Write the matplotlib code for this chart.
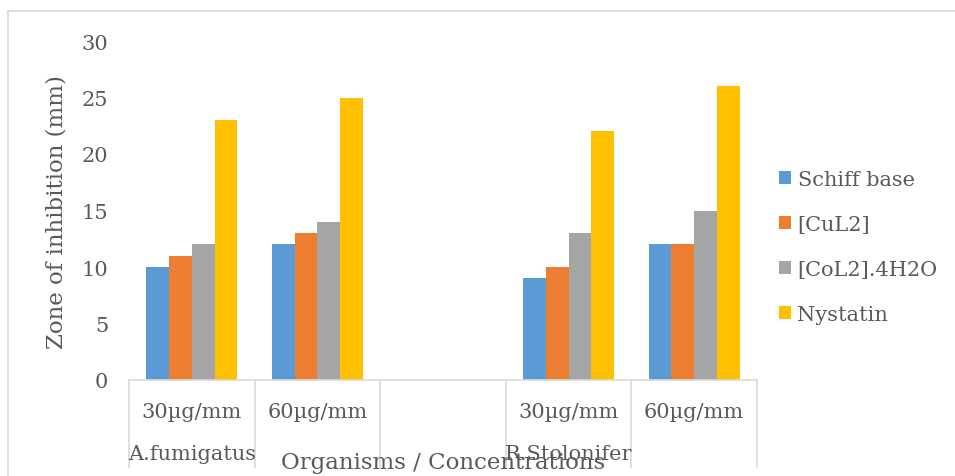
import numpy as np
import matplotlib
matplotlib.use("Agg")
from matplotlib import pyplot as plt
from matplotlib.patches import Rectangle

# data
concentrations = ["30µg/mm", "60µg/mm", "", "30µg/mm", "60µg/mm"]
organisms = ["A.fumigatus", "R.Stolonifer"]
organism_pos = [0, 3]
series_names = ["Schiff base", "[CuL2]", "[CoL2].4H2O", "Nystatin"]
schiff = [10, 12, np.nan, 9, 12]
cul2 = [11, 13, np.nan, 10, 12]
col2 = [12, 14, np.nan, 13, 15]
nystatin = [23, 25, np.nan, 22, 26]
colors = ["#5B9BD5", "#ED7D31", "#A5A5A5", "#FFC000"]

W, H = 955, 477
txt = "#595959"
grid = "#d9d9d9"
plt.rcParams["font.family"] = ["DejaVu Serif"]

fig = plt.figure(figsize=(W / 100, H / 100), dpi=100)
# plot area in pixels: x 129..757, y 42..381
ax = fig.add_axes([129 / W, (H - 381) / H, 628 / W, 339 / H])

x = np.arange(len(concentrations))
bw = 1 / 5.5  # gap width 150%
handles = []
for i, (vals, c) in enumerate(zip([schiff, cul2, col2, nystatin], colors)):
    b = ax.bar(x + (i - 1.5) * bw, vals, bw, color=c, label=series_names[i])
    handles.append(b)

ax.set_xlim(-0.5, len(concentrations) - 0.5)
ax.set_ylim(0, 30)
ax.set_yticks(range(0, 31, 5))
for s in ["top", "right", "left"]:
    ax.spines[s].set_visible(False)
ax.spines["bottom"].set_color(grid)
ax.spines["bottom"].set_linewidth(1.2)
ax.tick_params(axis="y", length=0, pad=15, labelsize=15, labelcolor=txt)
ax.tick_params(axis="x", length=0, pad=16, labelsize=15, labelcolor=txt)
ax.set_xticks(x)
ax.set_xticklabels(concentrations)

# category separators running down through both label rows
tr = ax.get_xaxis_transform()
for b in np.arange(-0.5, len(concentrations), 1.0):
    ax.plot([b, b], [0, -87 / 339], transform=tr, color=grid, lw=1.2, clip_on=False)

for name, p in zip(organisms, organism_pos):
    ax.text(p, -74 / 339, name, transform=tr, ha="center", va="center",
            fontsize=15, color=txt)

fig.text(57 / W, 1 - 212 / H, "Zone of inhibition (mm)", rotation=90,
         ha="center", va="center", fontsize=16.5, color=txt)
fig.text(443 / W, 1 - 463 / H, "Organisms / Concentrations", ha="center", va="center",
         fontsize=16.5, color=txt)

fig.legend(handles=handles, loc="center left", bbox_to_anchor=(760 / W, 1 - 248 / H),
           frameon=False, fontsize=15, labelcolor=txt, handlelength=0.6,
           handleheight=0.6, handletextpad=0.3, labelspacing=1.25)

fig.patches.append(Rectangle((7.5 / W, -0.1), 1.2, (H - 12) / H + 0.1,
                             transform=fig.transFigure, fill=False,
                             edgecolor=grid, lw=1.2))

fig.savefig("out.png", dpi=100)
